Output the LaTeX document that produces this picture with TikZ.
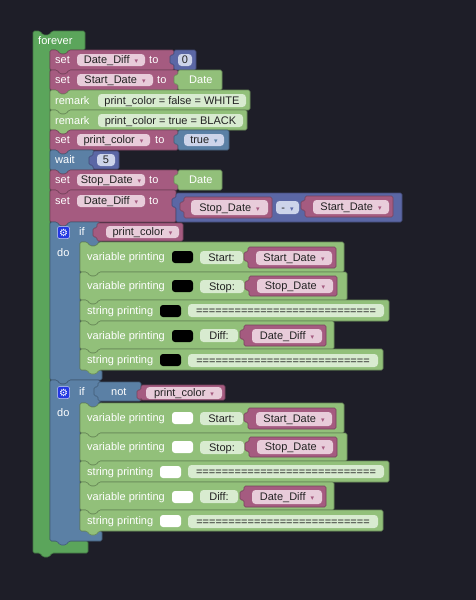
\documentclass[tikz,border=0pt]{standalone}
\usepackage{fontspec}
\setmainfont{Liberation Sans}
\newfontfamily\dv{DejaVu Sans}
\definecolor{bg}{RGB}{30,30,40}
\definecolor{loopc}{RGB}{91,165,91}
\definecolor{varc}{RGB}{165,91,128}
\definecolor{mathc}{RGB}{91,103,165}
\definecolor{logc}{RGB}{91,128,165}
\definecolor{grc}{RGB}{146,192,122}
\definecolor{varf}{RGB}{232,204,218}
\definecolor{bluef}{RGB}{205,212,234}
\definecolor{grf}{RGB}{216,235,208}
\definecolor{ftxt}{RGB}{35,35,35}
\definecolor{gearc}{RGB}{36,56,226}
\newcommand{\fs}{\fontsize{11}{13}\selectfont}
\newcommand{\arr}[1]{\hspace{5pt}{\dv\fontsize{7}{7}\selectfont\textcolor{#1}{▾}}}
\tikzset{
 blk/.style={fill=#1, draw=#1!72!black, line width=0.6, rounded corners=1.5},
 lbl/.style={anchor=west, inner sep=0, text height=7.5, text depth=0, text=white, font=\fs},
 fld/.style={inner sep=0, text height=7.5, text depth=0, text=ftxt, font=\fs, rounded corners=3.5},
 sw/.style={fill=#1, rounded corners=3, minimum width=21, minimum height=12, inner sep=0},
 gear/.style={fill=gearc, draw=white!75!gearc, line width=0.5, rounded corners=2, minimum size=12, inner sep=0, text=white, font=\dv\fontsize{10}{10}\selectfont},
}
% statement block: colour, x1, y1, x2, y2
\newcommand{\stm}[5]{\path[blk=#1] (#2,#3) -- (#2+7,#3) -- ++(3,4) -- ++(6,0) -- ++(3,-4) -- (#4,#3) -- (#4,#5) -- (#2+19,#5) -- ++(-3,4) -- ++(-6,0) -- ++(-3,-4) -- (#2,#5) -- cycle;}
% value block with left tab: colour, x1, y1, x2, y2
\newcommand{\valb}[5]{\path[blk=#1] (#2,#3) -- (#4,#3) -- (#4,#5) -- (#2,#5) -- (#2,#3+14) -- ++(-4,0) -- ++(0,-9) -- ++(4,0) -- cycle;}
% field: name, x1, y1, x2, y2, fill, text
\newcommand{\fieldn}[7]{\node[fld, fill=#6, minimum width={#4-#2}, minimum height={#5-#3}] (#1) at ({(#2+#4)/2},{(#3+#5)/2}) {#7};}
\begin{document}
\begin{tikzpicture}[x=1pt,y=-1pt]
\path[fill=bg] (0,0) rectangle (476,600);
\useasboundingbox (0,0) rectangle (476,600);

% forever
\path[blk=loopc] (33,31) -- (40,31) -- ++(3,4) -- ++(6,0) -- ++(3,-4) -- (85,31) -- (85,50) -- (69,50) -- ++(-3,4) -- ++(-6,0) -- ++(-3,-4) -- (50,50) -- (50,541) -- (88,541) -- (88,553) -- (52,553) -- ++(-3,4) -- ++(-6,0) -- ++(-3,-4) -- (33,553) -- cycle;
\node[lbl] (forever) at (38,41) {forever};

% set Date_Diff to 0
\stm{varc}{50}{50}{174}{70}
\node[lbl] (set1) at (55,60) {set};
\fieldn{v1}{77}{54}{145}{66}{varf}{Date\_Diff\arr{varc}}
\node[lbl] (to1) at (149,60) {to};
\valb{mathc}{174}{50}{196}{70}
\fieldn{n0}{178}{54}{192}{66}{bluef}{0}

% set Start_Date to Date
\stm{varc}{50}{70}{178}{90}
\node[lbl] (set2) at (55,80) {set};
\fieldn{v2}{77}{74}{153}{86}{varf}{Start\_Date\arr{varc}}
\node[lbl] (to2) at (157,80) {to};
\valb{grc}{178}{70}{222}{90}
\node[lbl] (date1) at (189,80) {Date};

% remarks
\stm{grc}{50}{90}{250}{110}
\node[lbl] (rem1) at (55,100.5) {remark};
\fieldn{r1}{98}{94}{246}{107}{grf}{print\_color = false = WHITE}
\stm{grc}{50}{110}{247}{130}
\node[lbl] (rem2) at (55,120.5) {remark};
\fieldn{r2}{98}{114}{243}{127}{grf}{print\_color = true = BLACK}

% set print_color to true
\stm{varc}{50}{130}{178}{150}
\node[lbl] (set3) at (55,140) {set};
\fieldn{v3}{77}{134}{150}{146}{varf}{print\_color\arr{varc}}
\node[lbl] (to3) at (155,140) {to};
\valb{logc}{178}{130}{229}{150}
\fieldn{tr}{184}{134}{224}{146}{bluef}{true\arr{logc}}

% wait 5
\stm{logc}{50}{150}{94}{170}
\node[lbl] (wait) at (55,160) {wait};
\valb{mathc}{93}{151}{119}{169}
\fieldn{n5}{97}{154}{115}{166}{bluef}{5}

% set Stop_Date to Date
\stm{varc}{50}{170}{178}{190}
\node[lbl] (set4) at (55,180) {set};
\fieldn{v4}{77}{174}{145}{186}{varf}{Stop\_Date\arr{varc}}
\node[lbl] (to4) at (149,180) {to};
\valb{grc}{178}{170}{222}{190}
\node[lbl] (date2) at (189,180) {Date};

% set Date_Diff to Stop_Date - Start_Date
\stm{varc}{50}{190}{176}{222}
\node[lbl] (set5) at (55,201) {set};
\fieldn{v5}{77}{195}{145}{207}{varf}{Date\_Diff\arr{varc}}
\node[lbl] (to5) at (149,201) {to};
\valb{mathc}{176}{193}{402}{222}
\valb{varc}{184}{197}{272}{218}
\fieldn{v6}{191}{200}{268}{215}{varf}{Stop\_Date\arr{varc}}
\fieldn{op}{276}{201}{299}{214}{bluef}{-\arr{mathc}}
\valb{varc}{305}{196}{393}{217}
\fieldn{v7}{313}{200}{389}{214}{varf}{Start\_Date\arr{varc}}

% if print_color
\path[blk=logc] (50,222) -- (57,222) -- ++(3,4) -- ++(6,0) -- ++(3,-4) -- (100,222) -- (100,242) -- (99,242) -- ++(-3,4) -- ++(-6,0) -- ++(-3,-4) -- (80,242) -- (80,370) -- (102,370) -- (102,380) -- (69,380) -- ++(-3,4) -- ++(-6,0) -- ++(-3,-4) -- (50,380) -- cycle;
\node[gear] (g1) at (63.5,232.5) {⚙};
\node[lbl] (if1) at (79,232) {if};
\valb{varc}{97}{223}{183}{241}
\fieldn{c1}{106}{226}{179}{238}{varf}{print\_color\arr{varc}}
\node[lbl] (do1) at (57,253) {do};

\stm{grc}{80}{242}{344}{272}
\node[lbl] (p1) at (87,257) {variable printing};
\node[sw=black] (s1) at (182.5,257) {};
\fieldn{t1}{200}{251}{243}{264}{grf}{Start:}
\valb{varc}{248}{247}{336}{268}
\fieldn{a1}{256}{251}{332}{265}{varf}{Start\_Date\arr{varc}}

\stm{grc}{80}{272}{347}{300}
\node[lbl] (p2) at (87,286) {variable printing};
\node[sw=black] (s2) at (182.5,286) {};
\fieldn{t2}{200}{280}{244}{293}{grf}{Stop:}
\valb{varc}{249}{276}{337}{296}
\fieldn{a2}{257}{279}{333}{293}{varf}{Stop\_Date\arr{varc}}

\stm{grc}{80}{300}{389}{321}
\node[lbl] (p3) at (87,310.5) {string printing};
\node[sw=black] (s3) at (170.5,311) {};
\fieldn{t3}{188}{304}{384}{317}{grf}{============================}

\stm{grc}{80}{321}{334}{349}
\node[lbl] (p4) at (87,335.5) {variable printing};
\node[sw=black] (s4) at (182.5,336) {};
\fieldn{t4}{200}{329}{238}{342}{grf}{Diff:}
\valb{varc}{244}{325}{326}{346}
\fieldn{a4}{252}{329}{322}{343}{varf}{Date\_Diff\arr{varc}}

\stm{grc}{80}{349}{383}{370}
\node[lbl] (p5) at (87,359.5) {string printing};
\node[sw=black] (s5) at (170.5,360) {};
\fieldn{t5}{188}{354}{378}{367}{grf}{===========================}

% if not print_color
\path[blk=logc] (50,380) -- (57,380) -- ++(3,4) -- ++(6,0) -- ++(3,-4) -- (100,380) -- (100,403) -- (99,403) -- ++(-3,4) -- ++(-6,0) -- ++(-3,-4) -- (80,403) -- (80,531) -- (102,531) -- (102,541) -- (69,541) -- ++(-3,4) -- ++(-6,0) -- ++(-3,-4) -- (50,541) -- cycle;
\node[gear] (g2) at (63.5,392.5) {⚙};
\node[lbl] (if2) at (79,392) {if};
\valb{logc}{98}{382}{141}{401}
\node[lbl] (not) at (111,391.5) {not};
\valb{varc}{141}{385}{225}{400}
\fieldn{c2}{146}{387}{222}{399}{varf}{print\_color\arr{varc}}
\node[lbl] (do2) at (57,413) {do};

\stm{grc}{80}{403}{344}{433}
\node[lbl] (q1) at (87,418) {variable printing};
\node[sw=white] (w1) at (182.5,418) {};
\fieldn{u1}{200}{412}{243}{425}{grf}{Start:}
\valb{varc}{248}{408}{336}{429}
\fieldn{b1}{256}{412}{332}{426}{varf}{Start\_Date\arr{varc}}

\stm{grc}{80}{433}{347}{461}
\node[lbl] (q2) at (87,447) {variable printing};
\node[sw=white] (w2) at (182.5,447) {};
\fieldn{u2}{200}{441}{244}{454}{grf}{Stop:}
\valb{varc}{249}{437}{337}{457}
\fieldn{b2}{257}{440}{333}{454}{varf}{Stop\_Date\arr{varc}}

\stm{grc}{80}{461}{389}{482}
\node[lbl] (q3) at (87,471.5) {string printing};
\node[sw=white] (w3) at (170.5,472) {};
\fieldn{u3}{188}{465}{384}{478}{grf}{============================}

\stm{grc}{80}{482}{334}{510}
\node[lbl] (q4) at (87,496.5) {variable printing};
\node[sw=white] (w4) at (182.5,497) {};
\fieldn{u4}{200}{490}{238}{503}{grf}{Diff:}
\valb{varc}{244}{486}{326}{507}
\fieldn{b4}{252}{490}{322}{504}{varf}{Date\_Diff\arr{varc}}

\stm{grc}{80}{510}{383}{531}
\node[lbl] (q5) at (87,520.5) {string printing};
\node[sw=white] (w5) at (170.5,521) {};
\fieldn{u5}{188}{515}{378}{528}{grf}{===========================}
\end{tikzpicture}
\end{document}
